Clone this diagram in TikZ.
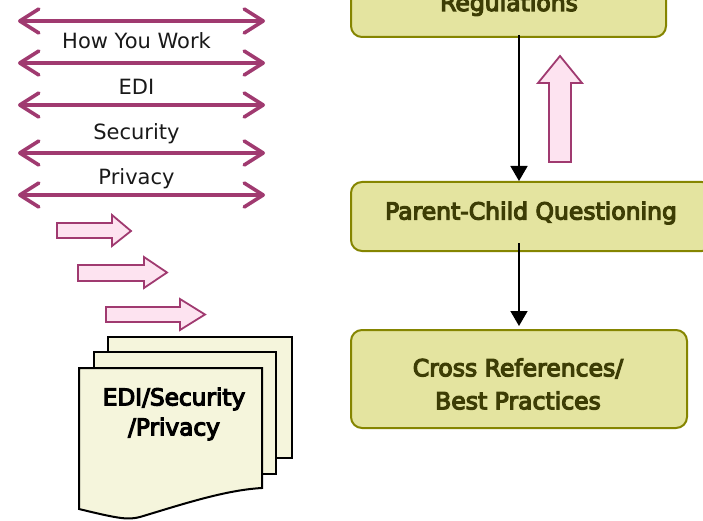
\documentclass[tikz,border=0pt]{standalone}
\usepackage{fontspec}
\setmainfont{DejaVu Sans}
\newfontfamily\semibold[FakeBold=5]{DejaVu Sans}
\usetikzlibrary{arrows.meta}
\definecolor{plum}{HTML}{A03A70}
\definecolor{pinkfill}{HTML}{FDE3F0}
\definecolor{olive}{HTML}{858500}
\definecolor{boxfill}{HTML}{E4E4A0}
\definecolor{boxtext}{HTML}{3D3D05}
\definecolor{docfill}{HTML}{F5F5DC}
\tikzset{
  x=1pt,y=-1pt,
  barb/.style={draw=plum,line width=3.6pt,{Straight Barb[length=19pt,width=24pt,line width=3.6pt,round]}-{Straight Barb[length=19pt,width=24pt,line width=3.6pt,round]}},
  lbl/.style={font=\fontsize{21}{24}\selectfont,text=black!90,inner sep=0pt,anchor=base},
  block/.style={draw=plum,fill=pinkfill,line width=1.8pt,line join=miter},
  box/.style={draw=olive,fill=boxfill,line width=2pt,rounded corners=11pt},
  boxlbl/.style={font=\semibold\fontsize{23.5}{33}\selectfont,text=boxtext,inner sep=0pt,align=center},
  doc/.style={draw=black,fill=docfill,line width=2pt,line join=miter},
  flow/.style={draw=black,line width=1.6pt,-{Triangle[length=15pt,width=17pt]}}
}
\begin{document}
\begin{tikzpicture}
\useasboundingbox (0,0) rectangle (703,521);
\clip (0,0) rectangle (703,521);
\fill[white] (0,0) rectangle (703,521);
% double-headed arrows
\foreach \n/\y in {a/21,b/63,c/105,d/153,e/195}{
  \coordinate (\n l) at (18,\y);
  \coordinate (\n r) at (265,\y);
  \draw[barb] (\n l) -- (\n r);
}
\node[lbl] (work) at (136.5,49) {How You Work};
\node[lbl] (edi) at (136.5,95) {EDI};
\node[lbl] (sec) at (136.5,140) {Security};
\node[lbl] (priv) at (136.5,185) {Privacy};
% block arrows
\draw[block] (57,223)--(112,223)--(112,215)--(131,231)--(112,246)--(112,238)--(57,238)--cycle;
\draw[block] (78,265)--(144,265)--(144,257)--(167,272.5)--(144,288)--(144,281)--(78,281)--cycle;
\draw[block] (106,307)--(180,307)--(180,299)--(205,314.5)--(180,330)--(180,322)--(106,322)--cycle;
\draw[block] (549,162)--(549,83)--(538,83)--(560,56)--(582,83)--(571,83)--(571,162)--cycle;
% documents
\draw[doc] (108,337)--(292,337)--(292,458)--(108,458)--cycle;
\draw[doc] (94,352)--(276,352)--(276,474)--(94,474)--cycle;
\draw[doc] (79,368)--(262,368)--(262,488) .. controls (225,490) and (180,505) .. (140,517)
  .. controls (128,520) and (120,519) .. (79,509)--cycle;
\node[font=\semibold\fontsize{23.2}{30}\selectfont,text=black,align=center,inner sep=0pt] (doctext) at (174,414) {EDI/Security\\/Privacy};
% flow boxes
\node[box,minimum width=315pt,minimum height=90pt,inner sep=0pt] (reg) at (508.5,-8) {};
\node[boxlbl,anchor=base] (reglbl) at (509,11) {Regulations};
\node[box,minimum width=362pt,minimum height=69pt,inner sep=0pt] (parent) at (532,216.5) {};
\node[boxlbl,anchor=base] (parlbl) at (531,219.5) {Parent-Child Questioning};
\node[box,minimum width=336pt,minimum height=98pt,inner sep=0pt] (cross) at (519,379) {};
\node[boxlbl] (crosslbl) at (518,384) {Cross References/\\Best Practices};
\coordinate (top1) at (519,35);
\coordinate (top2) at (519,243);
\draw[flow] (top1) -- (top1 |- parent.north);
\draw[flow] (top2) -- ([yshift=3pt]top2 |- cross.north);
\end{tikzpicture}
\end{document}
